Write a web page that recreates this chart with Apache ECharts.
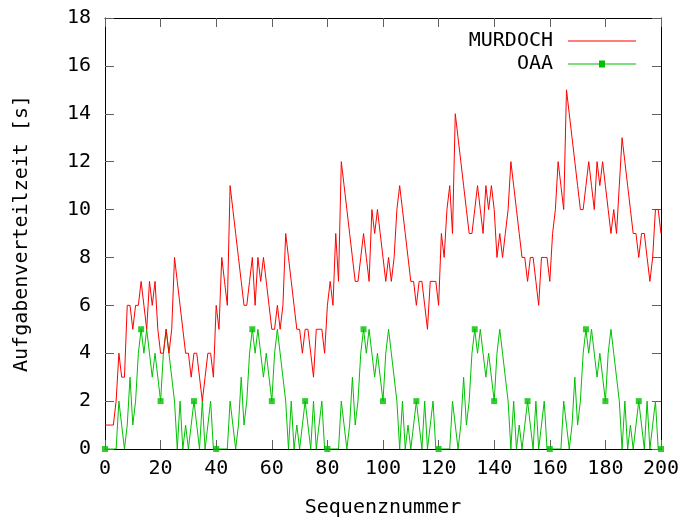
<!DOCTYPE html>
<html>
<head>
<meta charset="utf-8">
<script src="https://cdn.jsdelivr.net/npm/echarts@6/dist/echarts.min.js"></script>
<style>
html, body { margin: 0; padding: 0; background: #fff; }
#container { width: 691px; height: 518px; }
</style>
</head>
<body>
<div id="container"></div>
<script>
// Aufgabenverteilzeit je Sequenznummer (0..200)
var murdoch = [
    1, 1, 1, 1, 2, 4, 3, 3, 6, 6,
    5, 6, 6, 7, 6, 5, 7, 6, 7, 5,
    4, 4, 5, 4, 5, 8, 7, 6, 5, 4,
    4, 3, 4, 4, 3, 2, 3, 4, 4, 3,
    6, 5, 8, 7, 6, 11, 10, 9, 8, 7,
    6, 6, 7, 8, 6, 8, 7, 8, 7, 6,
    5, 5, 6, 5, 6, 9, 8, 7, 6, 5,
    5, 4, 5, 5, 4, 3, 5, 5, 5, 4,
    6, 7, 6, 9, 7, 12, 11, 10, 9, 8,
    7, 7, 8, 9, 8, 7, 10, 9, 10, 9,
    8, 7, 8, 7, 8, 10, 11, 10, 9, 8,
    7, 7, 6, 7, 7, 6, 5, 7, 7, 7,
    6, 9, 8, 10, 11, 9, 14, 13, 12, 11,
    10, 9, 9, 10, 11, 10, 9, 11, 10, 11,
    10, 8, 9, 8, 9, 10, 12, 11, 10, 9,
    8, 8, 7, 8, 8, 7, 6, 8, 8, 8,
    7, 9, 10, 12, 11, 10, 15, 14, 13, 12,
    11, 10, 10, 11, 12, 11, 10, 12, 11, 12,
    11, 10, 9, 10, 9, 11, 13, 12, 11, 10,
    9, 9, 8, 9, 9, 8, 7, 8, 10, 10,
    9
];
var oaa = [
    0, 0, 0, 0, 0, 2, 1, 0, 1, 3,
    1, 2, 4, 5, 4, 5, 4, 3, 4, 3,
    2, 4, 5, 4, 3, 2, 0, 2, 0, 1,
    0, 1, 2, 1, 0, 2, 0, 1, 2, 0,
    0, 0, 0, 0, 0, 2, 1, 0, 1, 3,
    1, 2, 4, 5, 4, 5, 4, 3, 4, 3,
    2, 4, 5, 4, 3, 2, 0, 2, 0, 1,
    0, 1, 2, 1, 0, 2, 0, 1, 2, 0,
    0, 0, 0, 0, 0, 2, 1, 0, 1, 3,
    1, 2, 4, 5, 4, 5, 4, 3, 4, 3,
    2, 4, 5, 4, 3, 2, 0, 2, 0, 1,
    0, 1, 2, 1, 0, 2, 0, 1, 2, 0,
    0, 0, 0, 0, 0, 2, 1, 0, 1, 3,
    1, 2, 4, 5, 4, 5, 4, 3, 4, 3,
    2, 4, 5, 4, 3, 2, 0, 2, 0, 1,
    0, 1, 2, 1, 0, 2, 0, 1, 2, 0,
    0, 0, 0, 0, 0, 2, 1, 0, 1, 3,
    1, 2, 4, 5, 4, 5, 4, 3, 4, 3,
    2, 4, 5, 4, 3, 2, 0, 2, 0, 1,
    0, 1, 2, 1, 0, 2, 0, 1, 2, 0,
    0
];
// Sequenznummern, an denen gnuplot die Punkte gesetzt hat
var oaaMarkerIdx = [0, 13, 20, 32, 40, 53, 60, 72, 80, 93, 100, 112, 120, 133, 140, 152, 160, 173, 180, 192, 200];

var FONT = 'DejaVu Sans Mono';

function toPairs(arr) {
    var res = [];
    for (var i = 0; i < arr.length; i++) {
        res.push([i, arr[i]]);
    }
    return res;
}

var dom = document.getElementById('container');
var myChart = echarts.init(dom);

var tickStyle = { show: true, inside: true, length: 9, lineStyle: { color: '#606060', width: 1 } };
var lineStyleAxis = { show: true, onZero: false, lineStyle: { color: '#000', width: 1 } };

var option = {
    animation: false,
    backgroundColor: '#fff',
    grid: { left: 105, right: 30, top: 18, bottom: 69, containLabel: false, outerBoundsMode: 'none' },
    legend: {
        data: [
            { name: 'MURDOCH', icon: 'path://M0,0H68V1H0Z' },
            { name: 'OAA', icon: 'path://M0,3H68V4H0Z M31,0H37V7H31Z' }
        ],
        orient: 'vertical',
        align: 'right',
        right: 50,
        top: 26,
        itemWidth: 68,
        itemHeight: 14,
        itemGap: 3,
        selectedMode: false,
        itemStyle: { borderWidth: 0 },
        textStyle: { fontFamily: FONT, fontSize: 20, color: '#000', padding: [0, 10, 0, 0] }
    },
    xAxis: [{
        type: 'value',
        min: 0, max: 200, interval: 20,
        name: 'Sequenznummer',
        nameLocation: 'middle',
        nameGap: 49,
        nameTextStyle: { fontFamily: FONT, fontSize: 20, color: '#000' },
        axisLine: lineStyleAxis,
        axisTick: tickStyle,
        axisLabel: { fontFamily: FONT, fontSize: 20, color: '#000', margin: 10 },
        splitLine: { show: false }
    }, {
        type: 'value',
        position: 'top',
        min: 0, max: 200, interval: 20,
        axisLine: lineStyleAxis,
        axisTick: tickStyle,
        axisLabel: { show: false },
        splitLine: { show: false }
    }],
    yAxis: [{
        type: 'value',
        min: 0, max: 18, interval: 2,
        name: 'Aufgabenverteilzeit [s]',
        nameLocation: 'middle',
        nameGap: 73,
        nameTextStyle: { fontFamily: FONT, fontSize: 20, color: '#000' },
        axisLine: lineStyleAxis,
        axisTick: tickStyle,
        axisLabel: { fontFamily: FONT, fontSize: 20, color: '#000', margin: 14 },
        splitLine: { show: false }
    }, {
        type: 'value',
        position: 'right',
        min: 0, max: 18, interval: 2,
        axisLine: lineStyleAxis,
        axisTick: tickStyle,
        axisLabel: { show: false },
        splitLine: { show: false }
    }],
    series: [{
        name: 'MURDOCH',
        type: 'line',
        data: toPairs(murdoch),
        showSymbol: false,
        symbol: 'none',
        color: '#ff0000',
        lineStyle: { color: '#ff0000', width: 1 },
        z: 3
    }, {
        name: 'OAA',
        type: 'line',
        data: toPairs(oaa),
        showSymbol: false,
        symbol: 'rect',
        color: '#00c000',
        lineStyle: { color: '#00c000', width: 1 },
        z: 2
    }, {
        name: 'OAA-Punkte',
        type: 'scatter',
        data: oaaMarkerIdx.map(function (i) { return [i, oaa[i]]; }),
        symbol: 'rect',
        symbolSize: 6,
        itemStyle: { color: '#00c000' },
        z: 4
    }]
};

myChart.setOption(option, true);
</script>
</body>
</html>
